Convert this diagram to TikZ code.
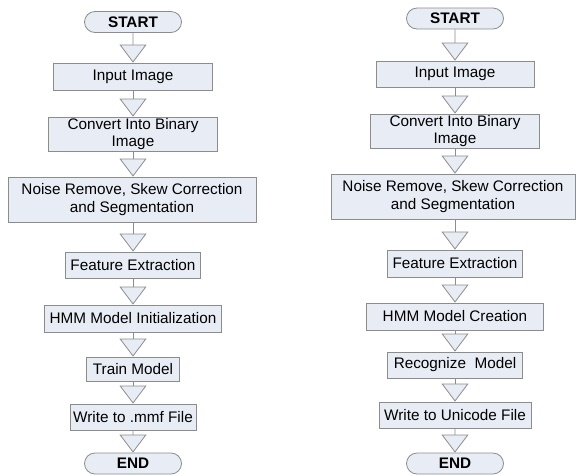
\documentclass[tikz,border=0pt]{standalone}
\usepackage{fontspec}
\setmainfont{Liberation Sans}
\usepackage{tikz}
\usetikzlibrary{shapes.misc,arrows.meta}
\definecolor{boxfill}{RGB}{232,237,245}
\definecolor{linegray}{RGB}{140,140,140}
\tikzset{
 step box/.style
  = {rectangle, draw=linegray, fill=boxfill, line width=0.8pt, inner sep=0pt,
     align=center, font=\fontsize{15.3}{17.5}\selectfont},
 term/.style
  = {rounded rectangle, draw=linegray, fill=boxfill, line width=0.8pt, inner sep=0pt,
     minimum width=97pt, minimum height=21pt, font=\fontsize{15.3}{17.5}\selectfont\bfseries},
 flow/.style
  = {draw=linegray, line width=0.8pt, -{Triangle[length=18pt,width=27pt,fill=boxfill]}},
}

\begin{document}
\begin{tikzpicture}[x=1pt,y=-1pt]
\useasboundingbox (0,0) rectangle (576,475);

% Training chart
\node[term] (startL) at (133,22) {START};
\node[step box, minimum width=159pt, minimum height=27pt] (inL) at (133,76.5) {Input Image};
\node[step box, minimum width=169pt, minimum height=34pt] (binL) at (133,134) {Convert Into Binary\\Image};
\node[step box, minimum width=248pt, minimum height=45pt] (noiseL) at (132,199.5) {Noise Remove, Skew Correction\\and Segmentation};
\node[step box, minimum width=135pt, minimum height=26pt] (featL) at (133,265) {Feature Extraction};
\node[step box, minimum width=177pt, minimum height=27pt] (hmmL) at (133,318.5) {HMM Model Initialization};
\node[step box, minimum width=93pt, minimum height=24pt] (trainL) at (133,369) {Train Model};
\node[step box, minimum width=126pt, minimum height=26pt] (writeL) at (133,417) {Write to .mmf File};
\node[term] (endL) at (133,463.5) {END};

\draw[flow] (startL) -- (inL);
\draw[flow] (inL) -- (binL);
\draw[flow] (binL) -- (binL |- noiseL.north);
\draw[flow] (noiseL.south -| featL) -- (featL);
\draw[flow] (featL) -- (hmmL);
\draw[flow] (hmmL) -- (trainL);
\draw[flow] (trainL) -- (writeL);
\draw[flow] (writeL) -- (endL);

% Recognition chart
\node[term] (startR) at (455,18.5) {START};
\node[step box, minimum width=158pt, minimum height=26pt] (inR) at (455,74) {Input Image};
\node[step box, minimum width=169pt, minimum height=34pt] (binR) at (455,131) {Convert Into Binary\\Image};
\node[step box, minimum width=244pt, minimum height=45pt] (noiseR) at (453,196.5) {Noise Remove, Skew Correction\\and Segmentation};
\node[step box, minimum width=135pt, minimum height=27pt] (featR) at (455,263.5) {Feature Extraction};
\node[step box, minimum width=177pt, minimum height=27pt] (hmmR) at (455,316.5) {HMM Model Creation};
\node[step box, minimum width=135pt, minimum height=26pt] (recR) at (455,365) {Recognize\ \ Model};
\node[step box, minimum width=152pt, minimum height=26pt] (writeR) at (455,415) {Write to Unicode File};
\node[term] (endR) at (455,463.5) {END};

\draw[flow] (startR) -- (inR);
\draw[flow] (inR) -- (binR);
\draw[flow] (binR) -- (binR |- noiseR.north);
\draw[flow] (noiseR.south -| featR) -- (featR);
\draw[flow] (featR) -- (hmmR);
\draw[flow] (hmmR) -- (recR);
\draw[flow] (recR) -- (writeR);
\draw[flow] (writeR) -- (endR);

\end{tikzpicture}
\end{document}
